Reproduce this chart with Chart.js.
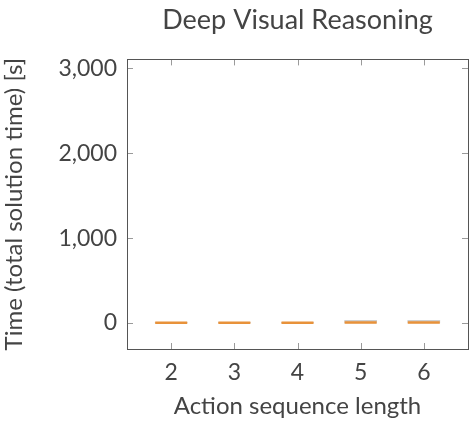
<!DOCTYPE html>
<html>
<head>
<meta charset="utf-8">
<script src="https://cdn.jsdelivr.net/npm/chart.js@4.4.0/dist/chart.umd.min.js"></script>
<style>
    html, body { margin: 0; padding: 0; background: #fff; overflow: hidden; }
    #wrap { width: 470px; height: 421px; position: relative; }
    canvas { display: block; }
</style>
</head>
<body>
<div id="wrap"><canvas id="boxChart"></canvas></div>
<script>
// action sequence lengths and estimated quartiles / medians of solution time [s]
var lengths = [2, 3, 4, 5, 6];
var q1Values = [0, 0, 0, 0, 0];
var q3Values = [6, 6, 7, 32, 30];
var medianValues = [2, 2, 2, 6, 6];
var yTicks = [0, 1000, 2000, 3000];

var textColor = '#444444';
var fontFamily = 'Lato, "DejaVu Sans", sans-serif';

// frame on all four sides with inward ticks, like the pgfplots look
var frameTicks = {
    id: 'frameTicks',
    afterDraw: function(chart) {
        var ctx = chart.ctx;
        var a = chart.chartArea;
        var xs = chart.scales.x;
        var ys = chart.scales.y;
        ctx.save();
        ctx.strokeStyle = '#9a9a9a';
        ctx.lineWidth = 1;
        ctx.beginPath();
        lengths.forEach(function(v) {
            var px = Math.round(xs.getPixelForValue(v)) + 0.5;
            ctx.moveTo(px, a.bottom); ctx.lineTo(px, a.bottom - 6);
            ctx.moveTo(px, a.top); ctx.lineTo(px, a.top + 6);
        });
        yTicks.forEach(function(v) {
            var py = Math.round(ys.getPixelForValue(v)) + 0.5;
            ctx.moveTo(a.left, py); ctx.lineTo(a.left + 6, py);
            ctx.moveTo(a.right, py); ctx.lineTo(a.right - 6, py);
        });
        ctx.stroke();
        ctx.strokeStyle = '#555555';
        ctx.strokeRect(Math.round(a.left) + 0.5, Math.round(a.top) + 0.5,
            Math.round(a.right - a.left), Math.round(a.bottom - a.top));
        ctx.restore();
    }
};

var ctx = document.getElementById('boxChart');

new Chart(ctx, {
    type: 'bar',
    data: {
        datasets: [{
            type: 'bar',
            label: 'IQR',
            data: lengths.map(function(l, i) { return { x: l, y: [q1Values[i], q3Values[i]] }; }),
            backgroundColor: '#cfcfcf',
            borderWidth: 0,
            barThickness: 32,
            order: 2
        }, {
            type: 'scatter',
            label: 'Median',
            data: lengths.map(function(l, i) { return { x: l, y: medianValues[i] }; }),
            pointStyle: 'line',
            pointRadius: 16,
            pointHoverRadius: 16,
            borderColor: '#e8923a',
            borderWidth: 2.5,
            order: 1
        }]
    },
    options: {
        responsive: true,
        maintainAspectRatio: false,
        animation: false,
        layout: { autoPadding: false, padding: { left: 0, right: 2, top: 0, bottom: 0 } },
        plugins: {
            legend: { display: false },
            tooltip: { enabled: false },
            title: {
                display: true,
                fullSize: false,
                text: 'Deep Visual Reasoning',
                color: textColor,
                font: { family: fontFamily, size: 27, weight: 'normal', lineHeight: 1.2 },
                padding: { top: 4, bottom: 23 }
            }
        },
        scales: {
            x: {
                type: 'linear',
                offset: false,
                min: 1.3,
                max: 6.7,
                afterBuildTicks: function(scale) {
                    scale.ticks = lengths.map(function(v) { return { value: v }; });
                },
                afterFit: function(scale) {
                    scale.height = 72;
                    scale.paddingLeft = 0;
                    scale.paddingRight = 0;
                },
                grid: { display: false, drawTicks: false },
                border: { display: false },
                ticks: {
                    color: textColor,
                    padding: 10,
                    font: { family: fontFamily, size: 23 }
                },
                title: {
                    display: true,
                    text: 'Action sequence length',
                    color: textColor,
                    font: { family: fontFamily, size: 24 },
                    padding: { top: 2, bottom: 0 }
                }
            },
            y: {
                type: 'linear',
                min: -307,
                max: 3106,
                afterBuildTicks: function(scale) {
                    scale.ticks = yTicks.map(function(v) { return { value: v }; });
                },
                afterFit: function(scale) {
                    scale.width = 127;
                },
                grid: { display: false, drawTicks: false },
                border: { display: false },
                ticks: {
                    color: textColor,
                    padding: 10,
                    font: { family: fontFamily, size: 23 },
                    callback: function(v) { return v.toLocaleString('en-US'); }
                },
                title: {
                    display: true,
                    text: 'Time (total solution time) [s]',
                    color: textColor,
                    font: { family: fontFamily, size: 24 },
                    padding: { top: 0, bottom: 4 }
                }
            }
        }
    },
    plugins: [frameTicks]
});
</script>
</body>
</html>
